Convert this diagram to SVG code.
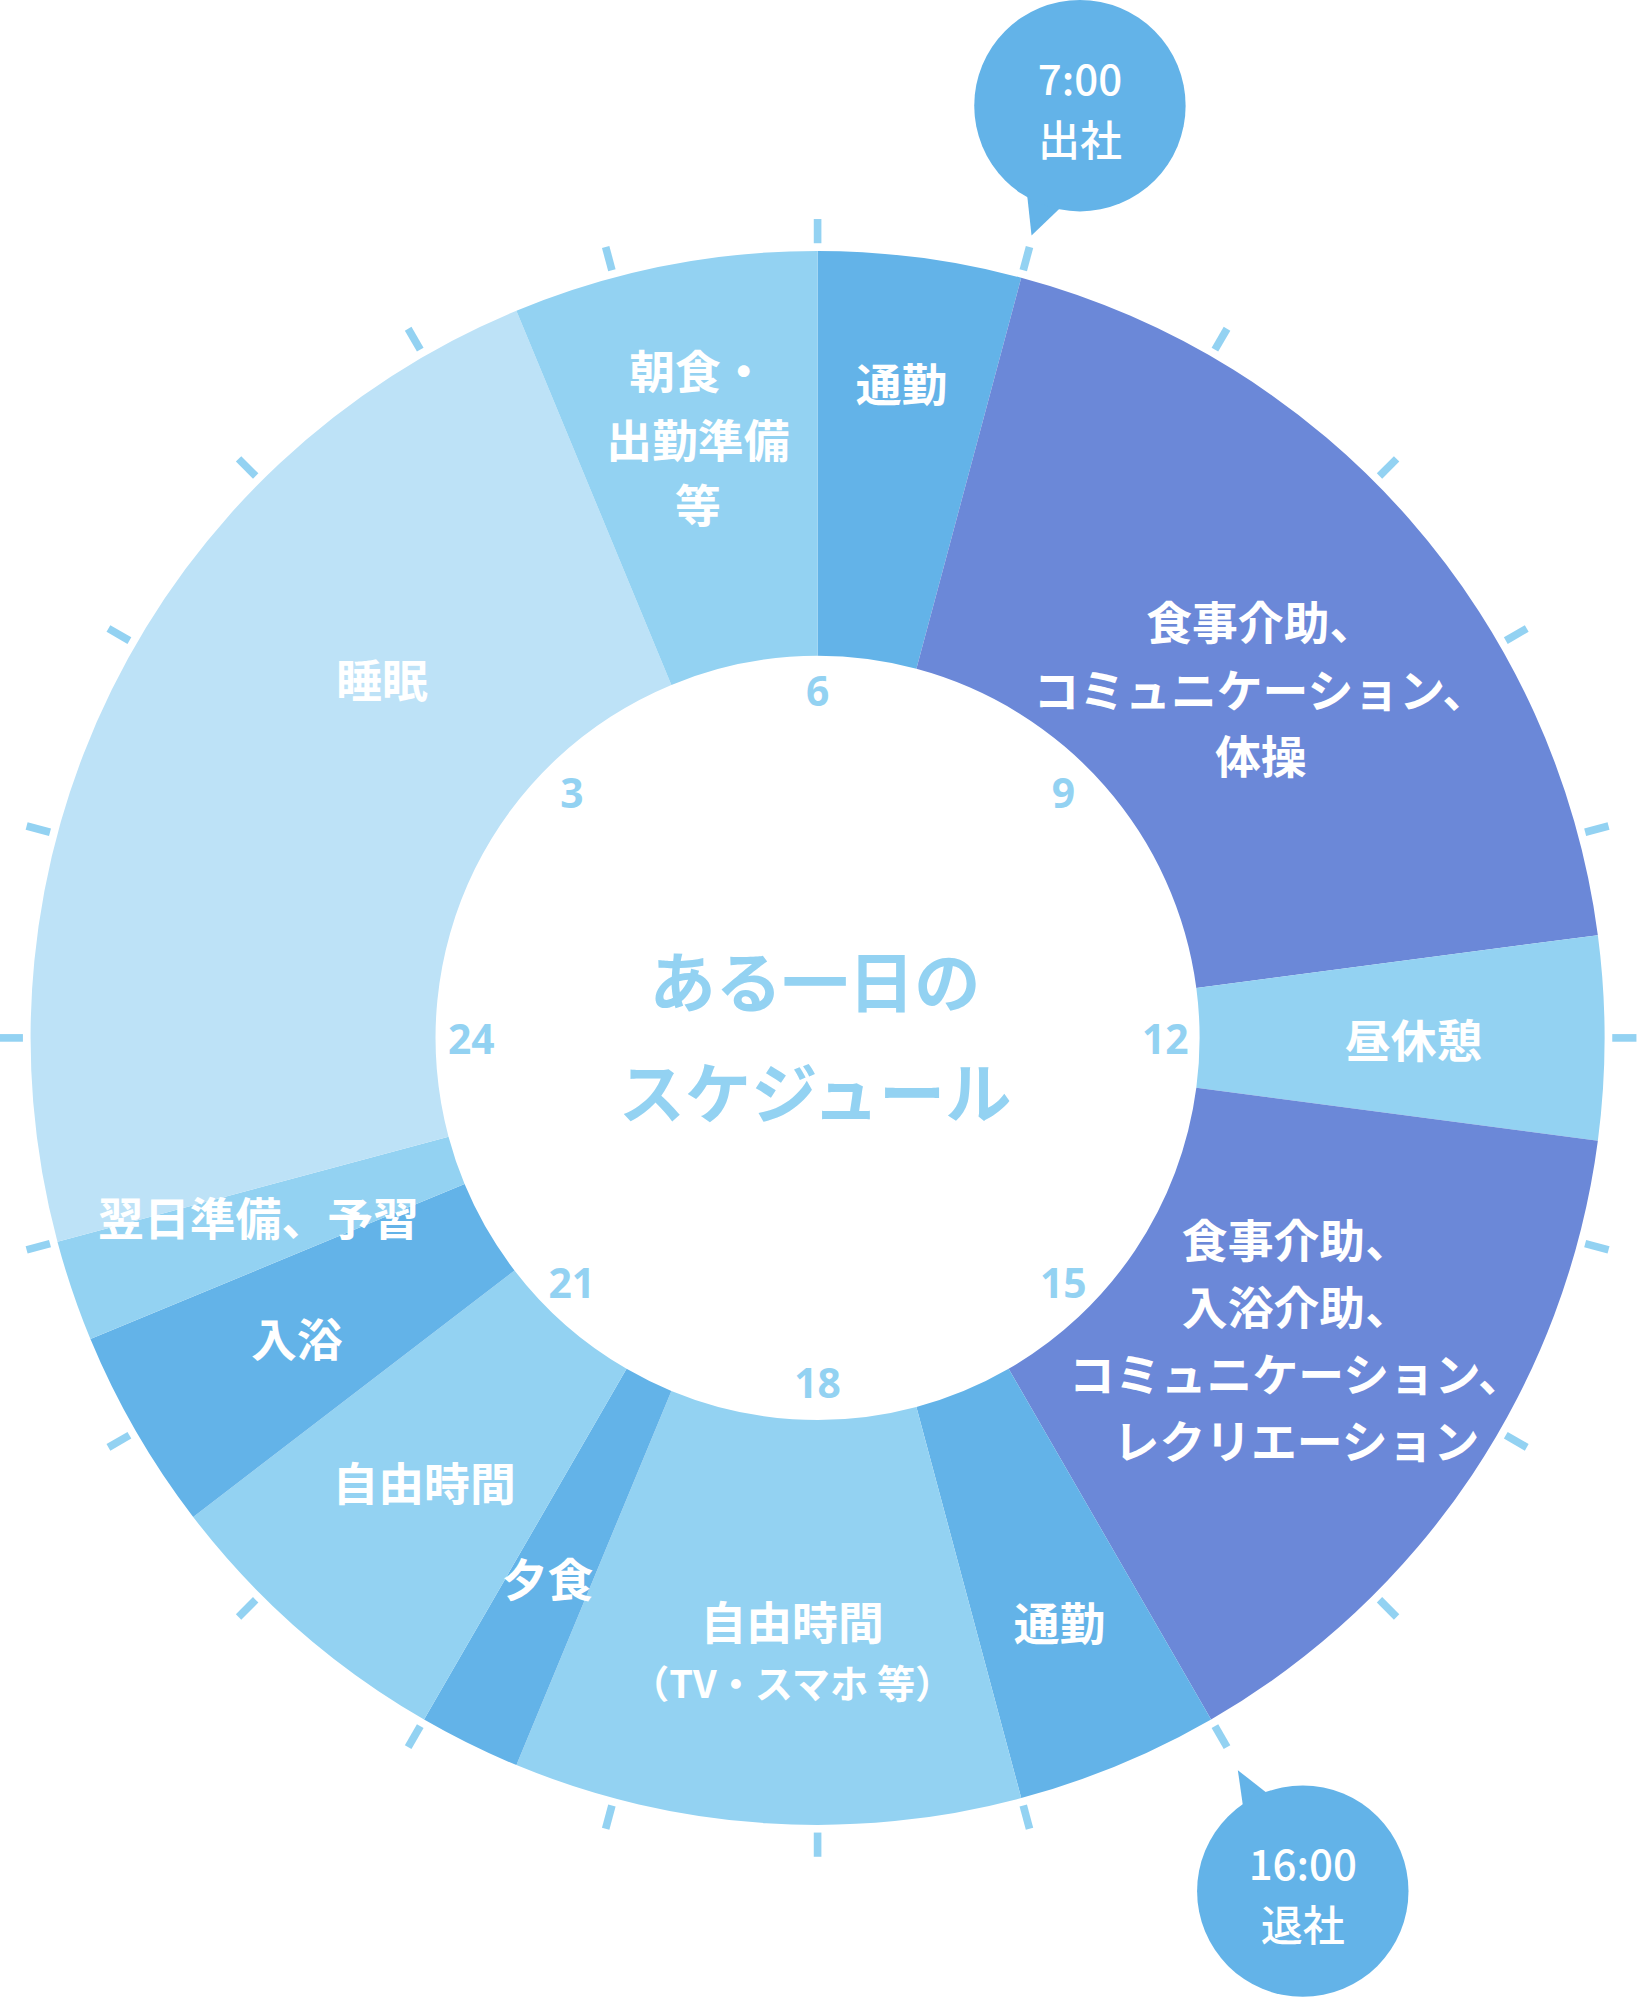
<svg xmlns="http://www.w3.org/2000/svg" width="1639" height="1999" viewBox="0 0 1639 1999">
<style>
.d{fill:#6b88d8}.m{fill:#63b3e8}.l{fill:#93d2f2}.v{fill:#bde2f7}
.t{fill:#fff;font-family:"Noto Sans CJK JP","Noto Sans",sans-serif;font-weight:700;font-size:36px;text-anchor:middle;dominant-baseline:central}
.k{fill:#fff;font-family:"Noto Sans CJK JP","Noto Sans",sans-serif;font-weight:500;font-size:33px;text-anchor:middle;dominant-baseline:central}
.h{fill:#93d2f2;font-family:"Noto Sans","Liberation Sans",sans-serif;font-weight:700;font-size:32px;text-anchor:middle;dominant-baseline:central}
.c{fill:#93d2f2;font-family:"Noto Sans CJK JP",sans-serif;font-weight:700;font-size:52px;text-anchor:middle;dominant-baseline:central}
.tk{stroke:#93d2f2;stroke-width:6}
</style>
<rect width="1639" height="1999" fill="#fff"/>
<g transform="scale(1.2735)">
<g id="segments">
<path id="s1" class="m" d="M642,197 A618,618 0 0 1 801.9,218.1 L719.6,525.2 A300,300 0 0 0 642,515Z"/>
<path id="s2" class="d" d="M801.9,218.1 A618,618 0 0 1 1254.7,734.3 L939.4,775.8 A300,300 0 0 0 719.6,525.2Z"/>
<path id="s3" class="l" d="M1254.7,734.3 A618,618 0 0 1 1254.7,895.7 L939.4,854.2 A300,300 0 0 0 939.4,775.8Z"/>
<path id="s4" class="d" d="M1254.7,895.7 A618,618 0 0 1 951,1350.2 L792,1074.8 A300,300 0 0 0 939.4,854.2Z"/>
<path id="s5" class="m" d="M951,1350.2 A618,618 0 0 1 801.9,1411.9 L719.6,1104.8 A300,300 0 0 0 792,1074.8Z"/>
<path id="s6" class="l" d="M801.9,1411.9 A618,618 0 0 1 405.5,1386 L527.2,1092.2 A300,300 0 0 0 719.6,1104.8Z"/>
<path id="s7" class="m" d="M405.5,1386 A618,618 0 0 1 333,1350.2 L492,1074.8 A300,300 0 0 0 527.2,1092.2Z"/>
<path id="s8" class="l" d="M333,1350.2 A618,618 0 0 1 151.7,1191.2 L404,997.6 A300,300 0 0 0 492,1074.8Z"/>
<path id="s9" class="m" d="M151.7,1191.2 A618,618 0 0 1 71,1051.5 L364.8,929.8 A300,300 0 0 0 404,997.6Z"/>
<path id="s10" class="l" d="M71,1051.5 A618,618 0 0 1 45.1,975 L352.2,892.6 A300,300 0 0 0 364.8,929.8Z"/>
<path id="s11" class="v" d="M45.1,975 A618,618 0 0 1 405.5,244 L527.2,537.8 A300,300 0 0 0 352.2,892.6Z"/>
<path id="s12" class="l" d="M405.5,244 A618,618 0 0 1 642,197 L642,515 A300,300 0 0 0 527.2,537.8Z"/>
</g>
<g id="ticks">
<line class="tk" x1="642" y1="172" x2="642" y2="191" transform="rotate(0 642 815)"/>
<line class="tk" x1="642" y1="172" x2="642" y2="191" transform="rotate(15 642 815)"/>
<line class="tk" x1="642" y1="172" x2="642" y2="191" transform="rotate(30 642 815)"/>
<line class="tk" x1="642" y1="172" x2="642" y2="191" transform="rotate(45 642 815)"/>
<line class="tk" x1="642" y1="172" x2="642" y2="191" transform="rotate(60 642 815)"/>
<line class="tk" x1="642" y1="172" x2="642" y2="191" transform="rotate(75 642 815)"/>
<line class="tk" x1="642" y1="172" x2="642" y2="191" transform="rotate(90 642 815)"/>
<line class="tk" x1="642" y1="172" x2="642" y2="191" transform="rotate(105 642 815)"/>
<line class="tk" x1="642" y1="172" x2="642" y2="191" transform="rotate(120 642 815)"/>
<line class="tk" x1="642" y1="172" x2="642" y2="191" transform="rotate(135 642 815)"/>
<line class="tk" x1="642" y1="172" x2="642" y2="191" transform="rotate(150 642 815)"/>
<line class="tk" x1="642" y1="172" x2="642" y2="191" transform="rotate(165 642 815)"/>
<line class="tk" x1="642" y1="172" x2="642" y2="191" transform="rotate(180 642 815)"/>
<line class="tk" x1="642" y1="172" x2="642" y2="191" transform="rotate(195 642 815)"/>
<line class="tk" x1="642" y1="172" x2="642" y2="191" transform="rotate(210 642 815)"/>
<line class="tk" x1="642" y1="172" x2="642" y2="191" transform="rotate(225 642 815)"/>
<line class="tk" x1="642" y1="172" x2="642" y2="191" transform="rotate(240 642 815)"/>
<line class="tk" x1="642" y1="172" x2="642" y2="191" transform="rotate(255 642 815)"/>
<line class="tk" x1="642" y1="172" x2="642" y2="191" transform="rotate(270 642 815)"/>
<line class="tk" x1="642" y1="172" x2="642" y2="191" transform="rotate(285 642 815)"/>
<line class="tk" x1="642" y1="172" x2="642" y2="191" transform="rotate(300 642 815)"/>
<line class="tk" x1="642" y1="172" x2="642" y2="191" transform="rotate(315 642 815)"/>
<line class="tk" x1="642" y1="172" x2="642" y2="191" transform="rotate(330 642 815)"/>
<line class="tk" x1="642" y1="172" x2="642" y2="191" transform="rotate(345 642 815)"/>
</g>
<g id="hours">
<text class="h" x="642" y="542">6</text>
<text class="h" x="835" y="622">9</text>
<text class="h" x="915" y="815">12</text>
<text class="h" x="835" y="1007">15</text>
<text class="h" x="642" y="1085">18</text>
<text class="h" x="449" y="1007">21</text>
<text class="h" x="370" y="815">24</text>
<text class="h" x="449" y="622">3</text>
</g>
<g id="center">
<text class="c" x="640" y="768">ある一日の</text>
<text class="c" x="640" y="855">スケジュール</text>
</g>
<g id="labels">
<text class="t" x="708" y="300">通勤</text>
<text class="t" x="548" y="290">朝食・</text>
<text class="t" x="548" y="344">出勤準備</text>
<text class="t" x="548" y="395">等</text>
<text class="t" x="990" y="487">食事介助、</text>
<text class="t" x="990" y="540">コミュニケーション、</text>
<text class="t" x="990" y="592">体操</text>
<text class="t" x="1110" y="815">昼休憩</text>
<text class="t" x="1018" y="972">食事介助、</text>
<text class="t" x="1018" y="1025">入浴介助、</text>
<text class="t" x="1018" y="1077">コミュニケーション、</text>
<text class="t" x="1018" y="1130">レクリエーション</text>
<text class="t" x="832" y="1273">通勤</text>
<text class="t" x="622" y="1272">自由時間</text>
<text class="t" x="622" y="1320" style="font-size:30px">（TV・スマホ 等）</text>
<text class="t" x="430" y="1238">夕食</text>
<text class="t" x="333" y="1163">自由時間</text>
<text class="t" x="233" y="1050">入浴</text>
<text class="t" x="203" y="955">翌日準備、予習</text>
<text class="t" x="300" y="532">睡眠</text>
</g>
<g id="callout-top">
<polygon class="m" points="806,148 836,160 810,185"/>
<circle class="m" cx="848" cy="83" r="83"/>
<text class="k" x="848" y="60">7:00</text>
<text class="k" x="848" y="108">出社</text>
</g>
<g id="callout-bottom">
<polygon class="m" points="972,1390 1000,1412 978,1432"/>
<circle class="m" cx="1023" cy="1485" r="83"/>
<text class="k" x="1023" y="1462">16:00</text>
<text class="k" x="1023" y="1510">退社</text>
</g>
</g>
</svg>
